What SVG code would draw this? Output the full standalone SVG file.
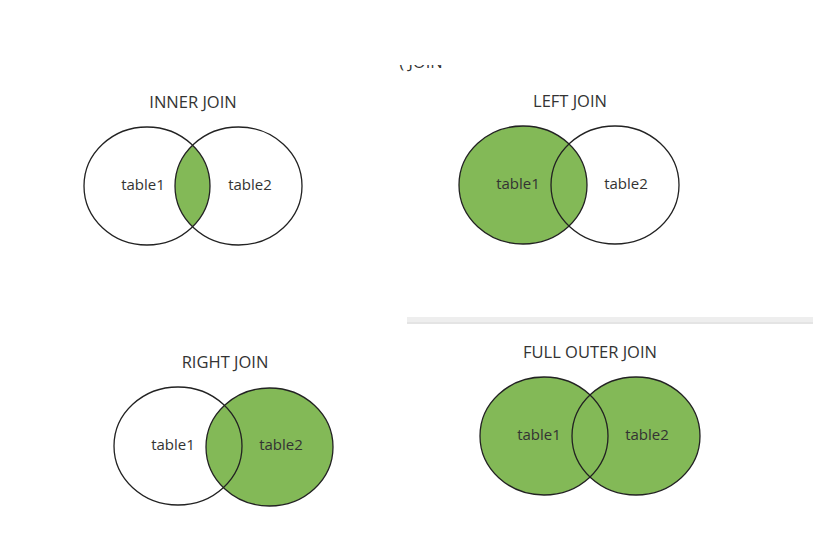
<svg xmlns="http://www.w3.org/2000/svg" width="819" height="542" viewBox="0 0 819 542">
<style>
.bg{fill:#ffffff}
.title{font-family:"Open Sans","Liberation Sans",sans-serif;font-size:16.5px;fill:#333333;text-anchor:middle}
.lbl{font-family:"Open Sans","Liberation Sans",sans-serif;font-size:15px;fill:#333333;text-anchor:middle}
.ring{fill:none;stroke:#222222;stroke-width:1.3}
.green{fill:#83b957}
</style>
<defs>
<clipPath id="clipInnerR"><ellipse cx="238.5" cy="186" rx="63.5" ry="59"/></clipPath>
<clipPath id="clipTop"><rect x="380" y="65" width="90" height="10"/></clipPath>
</defs>
<rect class="bg" x="0" y="0" width="819" height="542"/>
<g id="cut-title" clip-path="url(#clipTop)">
<text class="title" x="421" y="67.5">( JOIN</text>
</g>
<rect x="407" y="317" width="406" height="7" fill="#eeeeee"/>
<rect x="407" y="322" width="406" height="2" fill="#e4e4e4"/>
<g id="inner-join">
<text class="title" x="193" y="108">INNER JOIN</text>
<ellipse class="green" cx="147" cy="186" rx="63" ry="59" clip-path="url(#clipInnerR)"/>
<ellipse class="ring" cx="147" cy="186" rx="63" ry="59"/>
<ellipse class="ring" cx="238.5" cy="186" rx="63.5" ry="59"/>
<text class="lbl" x="143" y="190">table1</text>
<text class="lbl" x="250" y="190">table2</text>
</g>
<g id="left-join">
<text class="title" x="570" y="107">LEFT JOIN</text>
<ellipse class="green" cx="523" cy="185" rx="64" ry="59"/>
<ellipse class="ring" cx="523" cy="185" rx="64" ry="59"/>
<ellipse class="ring" cx="615" cy="185" rx="64" ry="59"/>
<text class="lbl" x="518" y="189">table1</text>
<text class="lbl" x="626" y="189">table2</text>
</g>
<g id="right-join">
<text class="title" x="225" y="368">RIGHT JOIN</text>
<ellipse class="green" cx="269.5" cy="447" rx="63.5" ry="59"/>
<ellipse class="ring" cx="178" cy="446" rx="64" ry="59"/>
<ellipse class="ring" cx="269.5" cy="447" rx="63.5" ry="59"/>
<text class="lbl" x="173" y="450">table1</text>
<text class="lbl" x="281" y="450">table2</text>
</g>
<g id="full-outer-join">
<text class="title" x="590" y="358">FULL OUTER JOIN</text>
<ellipse class="green" cx="544" cy="436" rx="64" ry="59"/>
<ellipse class="green" cx="636" cy="436" rx="64" ry="59"/>
<ellipse class="ring" cx="544" cy="436" rx="64" ry="59"/>
<ellipse class="ring" cx="636" cy="436" rx="64" ry="59"/>
<text class="lbl" x="539" y="440">table1</text>
<text class="lbl" x="647" y="440">table2</text>
</g>
</svg>
